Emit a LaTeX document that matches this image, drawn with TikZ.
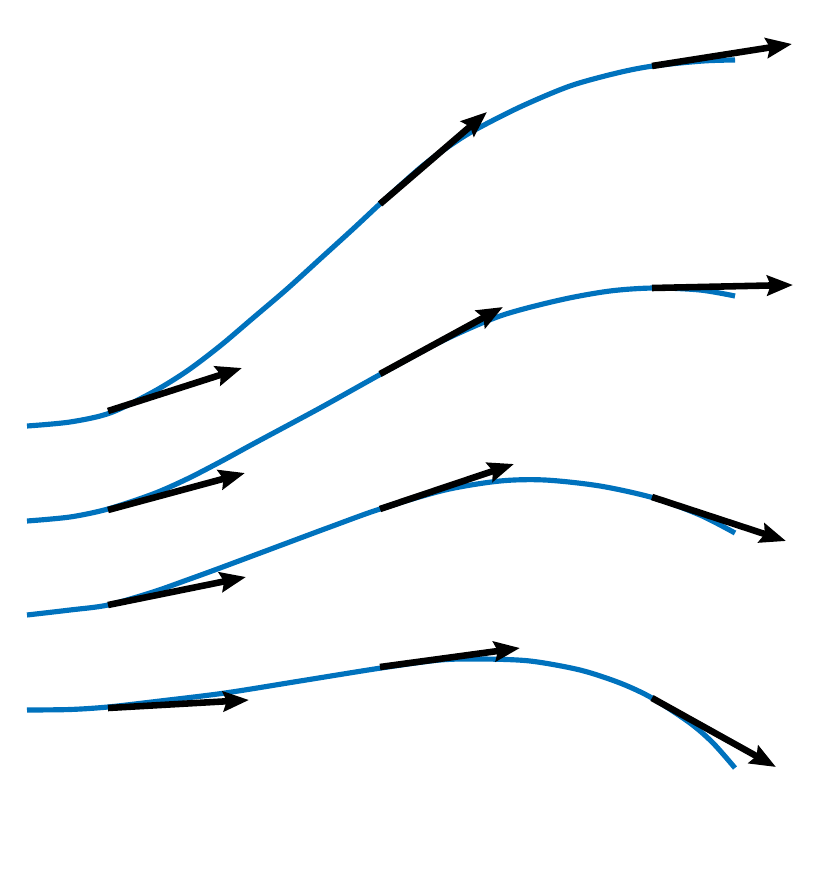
\documentclass[tikz,border=0pt]{standalone}
\usetikzlibrary{arrows.meta}
\definecolor{curveblue}{RGB}{0,114,189}

\begin{document}
\begin{tikzpicture}[x=.03cm,y=-.03cm,
    curve/.style={line width=4.4pt,curveblue},
    vec/.style={line width=5.6pt,-{Stealth[length=22pt,width=17pt,inset=3pt]}}]
    \useasboundingbox (0,0) rectangle (820,876);
    % curves
    \draw[curve] plot[smooth] coordinates {(27,426) (70,422) (110,413) (153,392) (187,371) (220,346) (253,318) (287,289) (320,259) (353,229) (382,202) (420,168) (445,149) (473,131) (520,107) (570,86) (617,73) (653,66) (703,61) (735,60)};
    \draw[curve] plot[smooth] coordinates {(27,521) (70,517) (108,509) (153,494) (187,479) (220,462) (253,444) (320,408) (381,374) (440,342) (500,316) (560,300) (610,291) (654,288) (700,290) (735,296)};
    \draw[curve] plot[smooth] coordinates {(27,615) (70,610) (108,605) (153,592) (187,580) (220,568) (287,543) (330,527) (380,509) (445,490) (500,481) (545,480) (600,486) (654,498) (700,515) (735,533)};
    \draw[curve] plot[smooth] coordinates {(27,710) (70,709.5) (108,707) (160,701) (225,693) (300,681) (381,668) (440,660) (482,659) (530,661) (580,670) (620,683) (652,698) (690,723) (713,743) (735,768)};
    % tangent vectors
    \coordinate (p11) at (108,411); \coordinate (q11) at (242,368);
    \coordinate (p12) at (380,204); \coordinate (q12) at (487,112);
    \coordinate (p13) at (652,66);  \coordinate (q13) at (792,44);
    \coordinate (p21) at (108,510); \coordinate (q21) at (245,473);
    \coordinate (p22) at (380,374); \coordinate (q22) at (503,307);
    \coordinate (p23) at (652,288); \coordinate (q23) at (793,285);
    \coordinate (p31) at (108,605); \coordinate (q31) at (246,577);
    \coordinate (p32) at (380,509); \coordinate (q32) at (514,464);
    \coordinate (p33) at (652,497); \coordinate (q33) at (786,541);
    \coordinate (p41) at (108,708); \coordinate (q41) at (249,700);
    \coordinate (p42) at (380,667); \coordinate (q42) at (520,648);
    \coordinate (p43) at (652,698); \coordinate (q43) at (776,767);
    \foreach \i in {1,...,4}
      \foreach \j in {1,2,3}
        \draw[vec] (p\i\j)--(q\i\j);
\end{tikzpicture}
\end{document}
